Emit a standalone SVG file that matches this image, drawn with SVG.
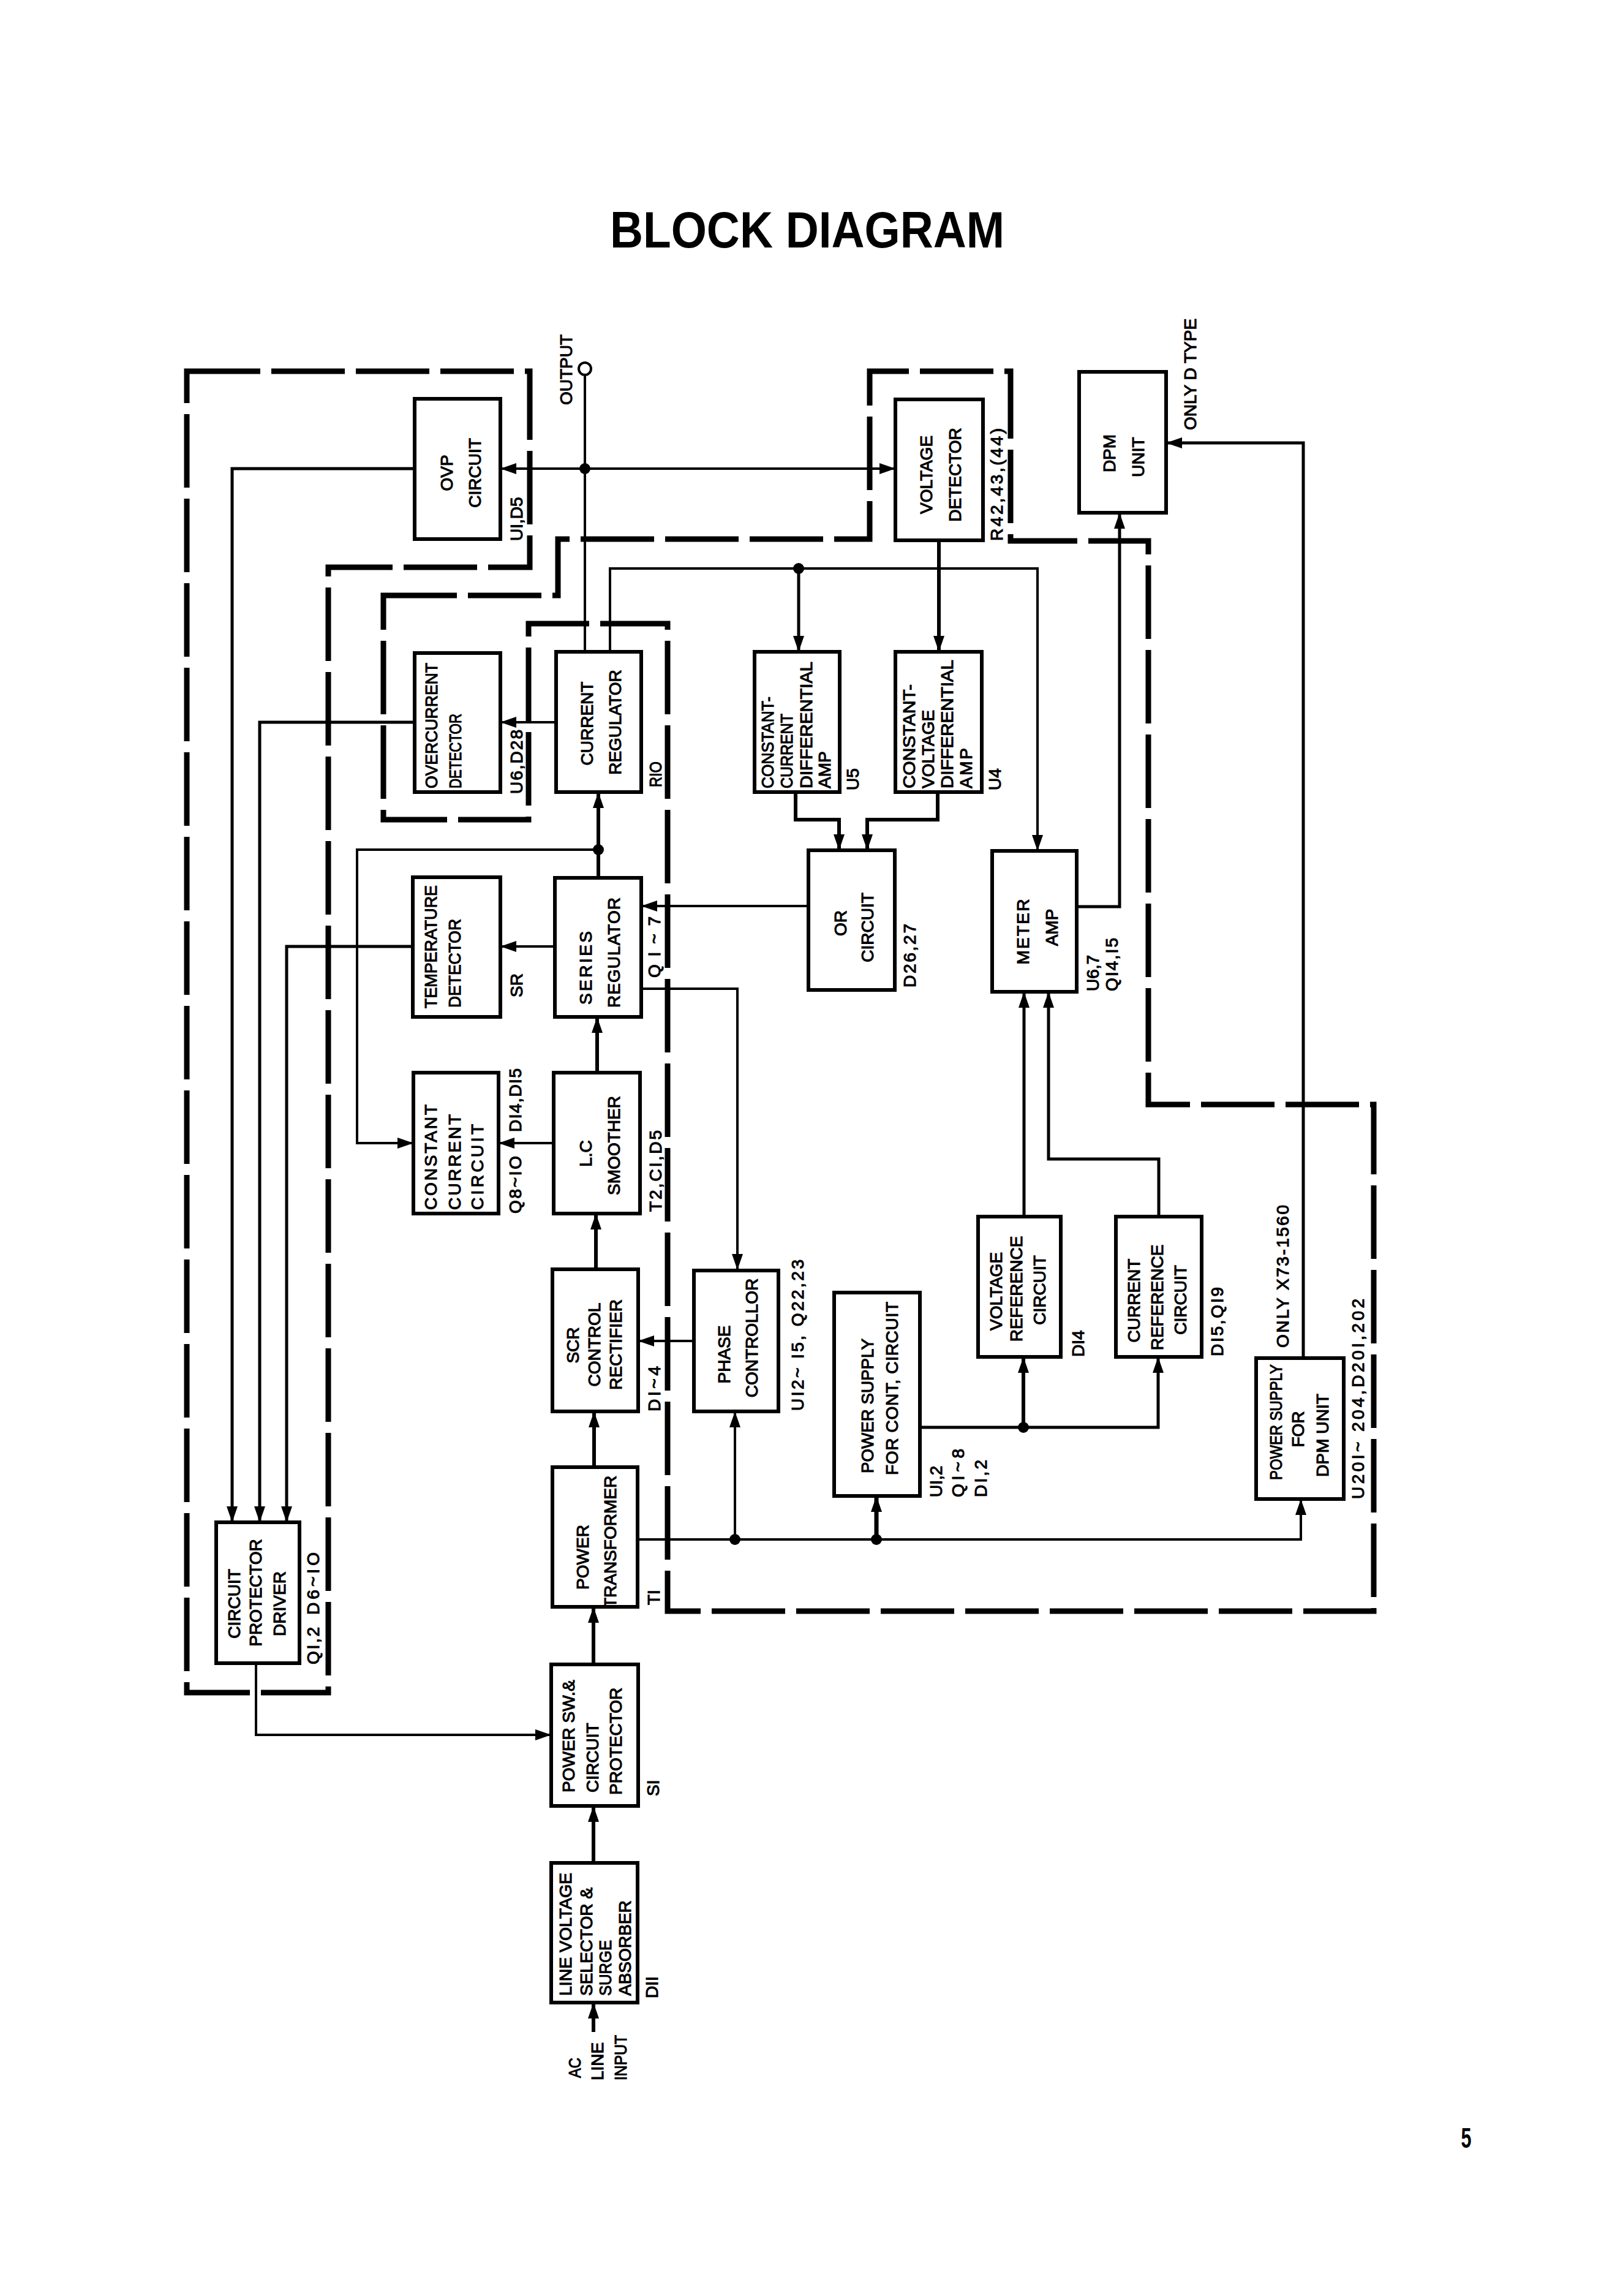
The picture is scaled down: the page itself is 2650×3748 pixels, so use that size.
<svg xmlns="http://www.w3.org/2000/svg" width="2650" height="3748" viewBox="0 0 2650 3748">
<defs>
<style>
.t{font-family:"Liberation Sans",Arial,sans-serif;font-size:28px;fill:#000;stroke:#000;stroke-width:1.1}
.c{text-anchor:middle}
.box{fill:#fff;stroke:#000;stroke-width:6}
.ln{fill:none;stroke:#000;stroke-width:4}
.tk{fill:none;stroke:#000;stroke-width:6}
.ar{marker-end:url(#ah)}
.dash{fill:none;stroke:#000;stroke-width:9;stroke-dasharray:120 18}
.dot{fill:#000}
</style>
<marker id="ah" viewBox="0 0 26 18" refX="26" refY="9" markerWidth="26" markerHeight="18" markerUnits="userSpaceOnUse" orient="auto"><path d="M0,0 L26,9 L0,18 z" fill="#000"/></marker>
</defs>
<rect width="2650" height="3748" fill="#fff"/>
<text x="1318" y="404" font-family="Liberation Sans, Arial, sans-serif" font-weight="bold" font-size="84" text-anchor="middle" textLength="644" lengthAdjust="spacingAndGlyphs">BLOCK DIAGRAM</text>
<text x="2394" y="3506" font-family="Liberation Sans, Arial, sans-serif" font-weight="bold" font-size="46" text-anchor="middle" textLength="17" lengthAdjust="spacingAndGlyphs">5</text>

<g id="boundaries">
<path class="dash" d="M305,606 H865 V926 H536 V2763 H305 Z"/>
<path class="dash" d="M626,972 H911 V880 H1420 V606 H1650 V883 H1875 V1803 H2243 V2630 H1090 V1018 H863 V1338 H626 Z"/>
</g>

<g id="connectors">
<circle cx="955" cy="602" r="10" fill="#fff" stroke="#000" stroke-width="4"/>
<path class="ln" d="M955,612 V1064"/>
<path class="ln ar" d="M955,765 H817"/>
<path class="ln ar" d="M955,765 H1462"/>
<circle class="dot" cx="955" cy="765" r="9"/>
<path class="ln ar" d="M677,765 H379 V2485" style="stroke-width:5"/>
<path class="ln ar" d="M677,1179 H424 V2485" style="stroke-width:5"/>
<path class="ln ar" d="M674,1545 H468 V2485" style="stroke-width:5"/>
<path class="ln ar" d="M908,1179 H817"/>
<path class="ln ar" d="M996,1064 V928 H1694 V1389"/>
<circle class="dot" cx="1304" cy="928" r="9"/>
<path class="tk ar" d="M1304,928 V1064" style="stroke-width:5"/>
<path class="tk ar" d="M1533,882 V1064"/>
<path class="tk ar" d="M1299,1293 V1338 H1370 V1388"/>
<path class="tk ar" d="M1531,1293 V1338 H1416 V1388"/>
<path class="ln ar" d="M1320,1479 H1047"/>
<path class="tk ar" d="M977,1433 V1293"/>
<circle class="dot" cx="977" cy="1387" r="9"/>
<path class="ln ar" d="M977,1387 H583 V1866 H675"/>
<path class="ln ar" d="M906,1545 H817"/>
<path class="ln ar" d="M904,1866 H814"/>
<path class="tk ar" d="M975,1751 V1660"/>
<path class="ln ar" d="M1047,1614 H1204 V2073"/>
<path class="tk ar" d="M973,2072 V1981"/>
<path class="ln ar" d="M1133,2189 H1042"/>
<path class="tk ar" d="M970,2395 V2304"/>
<path class="ln ar" d="M1041,2513 H2124 V2447"/>
<circle class="dot" cx="1200" cy="2513" r="9"/>
<circle class="dot" cx="1431" cy="2513" r="9"/>
<path class="ln ar" d="M1200,2513 V2304"/>
<path class="tk ar" d="M1431,2513 V2442" style="stroke-width:7"/>
<path class="ln ar" d="M1502,2330 H1891 V2215" style="stroke-width:5"/>
<circle class="dot" cx="1671" cy="2330" r="9"/>
<path class="tk ar" d="M1671,2330 V2215"/>
<path class="tk ar" d="M1672,1986 V1619" style="stroke-width:5"/>
<path class="tk ar" d="M1892,1986 V1892 H1712 V1619" style="stroke-width:5"/>
<path class="ln ar" d="M1758,1480 H1828 V837" style="stroke-width:5"/>
<path class="ln ar" d="M2128,2217 V723 H1904" style="stroke-width:5"/>
<path class="ln ar" d="M418,2715 V2832 H900"/>
<path class="tk ar" d="M969,2717 V2623"/>
<path class="tk ar" d="M969,3041 V2948"/>
<path class="tk ar" d="M969,3317 V3269"/>
</g>

<g id="output-terminal">
<text class="t" transform="translate(934 661) rotate(-90)">OUTPUT</text>
</g>

<g id="ovp-circuit">
<rect class="box" x="677" y="651" width="140" height="229"/>
<text class="t c" transform="translate(739 772) rotate(-90)">OVP</text>
<text class="t c" transform="translate(785 772) rotate(-90)">CIRCUIT</text>
<text class="t" transform="translate(853 883) rotate(-90)">UI,D5</text>
</g>

<g id="voltage-detector">
<rect class="box" x="1462" y="652" width="143" height="230"/>
<text class="t c" transform="translate(1522 775) rotate(-90)">VOLTAGE</text>
<text class="t c" transform="translate(1569 775) rotate(-90)">DETECTOR</text>
<text class="t" transform="translate(1637 883) rotate(-90)" textLength="184" lengthAdjust="spacing">R42,43,(44)</text>
</g>

<g id="dpm-unit">
<rect class="box" x="1762" y="607" width="142" height="230"/>
<text class="t c" transform="translate(1821 740) rotate(-90)">DPM</text>
<text class="t c" transform="translate(1868 746) rotate(-90)">UNIT</text>
<text class="t" transform="translate(1953 702) rotate(-90)">ONLY D TYPE</text>
</g>

<g id="overcurrent-detector">
<rect class="box" x="677" y="1066" width="140" height="227"/>
<text class="t" transform="translate(714 1287) rotate(-90)" textLength="205" lengthAdjust="spacingAndGlyphs">OVERCURRENT</text>
<text class="t" transform="translate(753 1287) rotate(-90)" textLength="122" lengthAdjust="spacingAndGlyphs">DETECTOR</text>
<text class="t" transform="translate(853 1296) rotate(-90)" textLength="105" lengthAdjust="spacing">U6,D28</text>
</g>

<g id="current-regulator">
<rect class="box" x="908" y="1064" width="139" height="229"/>
<text class="t c" transform="translate(968 1181) rotate(-90)">CURRENT</text>
<text class="t c" transform="translate(1014 1179) rotate(-90)">REGULATOR</text>
<text class="t" transform="translate(1080 1285) rotate(-90)" textLength="42" lengthAdjust="spacingAndGlyphs">RIO</text>
</g>

<g id="cc-differential-amp">
<rect class="box" x="1232" y="1064" width="139" height="229"/>
<text class="t" transform="translate(1263 1287) rotate(-90)" textLength="150" lengthAdjust="spacingAndGlyphs">CONSTANT-</text>
<text class="t" transform="translate(1294 1287) rotate(-90)" textLength="122" lengthAdjust="spacingAndGlyphs">CURRENT</text>
<text class="t" transform="translate(1326 1287) rotate(-90)" textLength="207" lengthAdjust="spacingAndGlyphs">DIFFERENTIAL</text>
<text class="t" transform="translate(1356 1287) rotate(-90)">AMP</text>
<text class="t" transform="translate(1402 1290) rotate(-90)">U5</text>
</g>

<g id="cv-differential-amp">
<rect class="box" x="1462" y="1064" width="141" height="229"/>
<text class="t" transform="translate(1494 1287) rotate(-90)" textLength="170" lengthAdjust="spacingAndGlyphs">CONSTANT-</text>
<text class="t" transform="translate(1525 1287) rotate(-90)">VOLTAGE</text>
<text class="t" transform="translate(1556 1287) rotate(-90)" textLength="210" lengthAdjust="spacingAndGlyphs">DIFFERENTIAL</text>
<text class="t" transform="translate(1587 1287) rotate(-90)" textLength="66" lengthAdjust="spacing">AMP</text>
<text class="t" transform="translate(1634 1290) rotate(-90)">U4</text>
</g>

<g id="temperature-detector">
<rect class="box" x="674" y="1432" width="143" height="228"/>
<text class="t" transform="translate(713 1646) rotate(-90)" textLength="201" lengthAdjust="spacingAndGlyphs">TEMPERATURE</text>
<text class="t" transform="translate(752 1645) rotate(-90)" textLength="145" lengthAdjust="spacingAndGlyphs">DETECTOR</text>
<text class="t" transform="translate(853 1628) rotate(-90)">SR</text>
</g>

<g id="series-regulator">
<rect class="box" x="906" y="1433" width="141" height="227"/>
<text class="t" transform="translate(966 1640) rotate(-90)" textLength="120" lengthAdjust="spacing">SERIES</text>
<text class="t" transform="translate(1012 1645) rotate(-90)" textLength="180" lengthAdjust="spacing">REGULATOR</text>
<text class="t" transform="translate(1078 1596) rotate(-90)" textLength="100" lengthAdjust="spacing">QI~7</text>
</g>

<g id="or-circuit">
<rect class="box" x="1320" y="1388" width="141" height="228"/>
<text class="t c" transform="translate(1382 1507) rotate(-90)">OR</text>
<text class="t c" transform="translate(1426 1514) rotate(-90)">CIRCUIT</text>
<text class="t" transform="translate(1495 1612) rotate(-90)" textLength="104" lengthAdjust="spacing">D26,27</text>
</g>

<g id="meter-amp">
<rect class="box" x="1620" y="1389" width="138" height="230"/>
<text class="t c" transform="translate(1680 1521) rotate(-90)" textLength="107" lengthAdjust="spacing">METER</text>
<text class="t c" transform="translate(1727 1514) rotate(-90)">AMP</text>
<text class="t" transform="translate(1794 1618) rotate(-90)">U6,7</text>
<text class="t" transform="translate(1825 1618) rotate(-90)" textLength="87" lengthAdjust="spacing">QI4,I5</text>
</g>

<g id="constant-current-circuit">
<rect class="box" x="675" y="1751" width="139" height="230"/>
<text class="t" transform="translate(713 1975) rotate(-90)" textLength="172" lengthAdjust="spacing">CONSTANT</text>
<text class="t" transform="translate(752 1975) rotate(-90)" textLength="156" lengthAdjust="spacing">CURRENT</text>
<text class="t" transform="translate(789 1975) rotate(-90)" textLength="140" lengthAdjust="spacing">CIRCUIT</text>
<text class="t" transform="translate(851 1981) rotate(-90)" textLength="94" lengthAdjust="spacing">Q8~IO</text>
<text class="t" transform="translate(851 1848) rotate(-90)" textLength="104" lengthAdjust="spacing">DI4,DI5</text>
</g>

<g id="lc-smoother">
<rect class="box" x="904" y="1751" width="141" height="230"/>
<text class="t c" transform="translate(966 1883) rotate(-90)">L.C</text>
<text class="t c" transform="translate(1012 1870) rotate(-90)">SMOOTHER</text>
<text class="t" transform="translate(1080 1978) rotate(-90)" textLength="133" lengthAdjust="spacing">T2,CI,D5</text>
</g>

<g id="scr-control-rectifier">
<rect class="box" x="902" y="2072" width="140" height="232"/>
<text class="t c" transform="translate(945 2196) rotate(-90)">SCR</text>
<text class="t c" transform="translate(980 2195) rotate(-90)">CONTROL</text>
<text class="t c" transform="translate(1015 2195) rotate(-90)">RECTIFIER</text>
<text class="t" transform="translate(1078 2304) rotate(-90)" textLength="74" lengthAdjust="spacing">DI~4</text>
</g>

<g id="phase-controllor">
<rect class="box" x="1133" y="2074" width="138" height="230"/>
<text class="t c" transform="translate(1192 2211) rotate(-90)">PHASE</text>
<text class="t c" transform="translate(1237 2184) rotate(-90)">CONTROLLOR</text>
<text class="t" transform="translate(1312 2303) rotate(-90)" textLength="247" lengthAdjust="spacing">UI2~ I5, Q22,23</text>
</g>

<g id="power-supply-cont">
<rect class="box" x="1362" y="2110" width="140" height="332"/>
<text class="t" transform="translate(1426 2405) rotate(-90)" textLength="220" lengthAdjust="spacingAndGlyphs">POWER SUPPLY</text>
<text class="t" transform="translate(1466 2408) rotate(-90)" textLength="283" lengthAdjust="spacing">FOR CONT, CIRCUIT</text>
<text class="t" transform="translate(1538 2444) rotate(-90)">UI,2</text>
<text class="t" transform="translate(1574 2444) rotate(-90)" textLength="79" lengthAdjust="spacing">QI~8</text>
<text class="t" transform="translate(1611 2444) rotate(-90)" textLength="61" lengthAdjust="spacing">DI,2</text>
</g>

<g id="voltage-reference">
<rect class="box" x="1597" y="1986" width="135" height="229"/>
<text class="t c" transform="translate(1636 2108) rotate(-90)">VOLTAGE</text>
<text class="t c" transform="translate(1669 2104) rotate(-90)">REFERENCE</text>
<text class="t c" transform="translate(1707 2106) rotate(-90)">CIRCUIT</text>
<text class="t" transform="translate(1770 2215) rotate(-90)">DI4</text>
</g>

<g id="current-reference">
<rect class="box" x="1822" y="1986" width="140" height="229"/>
<text class="t c" transform="translate(1861 2123) rotate(-90)">CURRENT</text>
<text class="t c" transform="translate(1899 2118) rotate(-90)">REFERENCE</text>
<text class="t c" transform="translate(1937 2122) rotate(-90)">CIRCUIT</text>
<text class="t" transform="translate(1997 2214) rotate(-90)" textLength="113" lengthAdjust="spacing">DI5,QI9</text>
</g>

<g id="power-supply-dpm">
<rect class="box" x="2051" y="2217" width="143" height="230"/>
<text class="t" transform="translate(2093 2416) rotate(-90)" textLength="189" lengthAdjust="spacingAndGlyphs">POWER SUPPLY</text>
<text class="t c" transform="translate(2129 2333) rotate(-90)">FOR</text>
<text class="t" transform="translate(2169 2411) rotate(-90)" textLength="136" lengthAdjust="spacingAndGlyphs">DPM UNIT</text>
<text class="t" transform="translate(2104 2200) rotate(-90)" textLength="233" lengthAdjust="spacing">ONLY X73-1560</text>
<text class="t" transform="translate(2227 2447) rotate(-90)" textLength="327" lengthAdjust="spacing">U20I~ 204,D20I,202</text>
</g>

<g id="power-transformer">
<rect class="box" x="902" y="2395" width="139" height="228"/>
<text class="t c" transform="translate(961 2542) rotate(-90)">POWER</text>
<text class="t c" transform="translate(1006 2517) rotate(-90)">TRANSFORMER</text>
<text class="t" transform="translate(1077 2620) rotate(-90)">TI</text>
</g>

<g id="circuit-protector-driver">
<rect class="box" x="353" y="2485" width="136" height="230"/>
<text class="t c" transform="translate(392 2618) rotate(-90)">CIRCUIT</text>
<text class="t c" transform="translate(427 2600) rotate(-90)">PROTECTOR</text>
<text class="t c" transform="translate(466 2618) rotate(-90)">DRIVER</text>
<text class="t" transform="translate(521 2717) rotate(-90)" textLength="61" lengthAdjust="spacing">QI,2</text>
<text class="t" transform="translate(521 2636) rotate(-90)" textLength="102" lengthAdjust="spacing">D6~IO</text>
</g>

<g id="power-switch-protector">
<rect class="box" x="900" y="2717" width="142" height="231"/>
<text class="t" transform="translate(938 2926) rotate(-90)">POWER SW.&amp;</text>
<text class="t" transform="translate(977 2926) rotate(-90)">CIRCUIT</text>
<text class="t" transform="translate(1015 2930) rotate(-90)">PROTECTOR</text>
<text class="t" transform="translate(1076 2932) rotate(-90)">SI</text>
</g>

<g id="line-voltage-selector">
<rect class="box" x="900" y="3041" width="141" height="228"/>
<text class="t" transform="translate(933 3258) rotate(-90)" textLength="201" lengthAdjust="spacingAndGlyphs">LINE VOLTAGE</text>
<text class="t" transform="translate(967 3258) rotate(-90)">SELECTOR &amp;</text>
<text class="t" transform="translate(998 3258) rotate(-90)" textLength="91" lengthAdjust="spacingAndGlyphs">SURGE</text>
<text class="t" transform="translate(1030 3258) rotate(-90)">ABSORBER</text>
<text class="t" transform="translate(1074 3262) rotate(-90)">DII</text>
</g>

<g id="ac-line-input">
<text class="t" transform="translate(948 3392) rotate(-90)" textLength="33" lengthAdjust="spacingAndGlyphs">AC</text>
<text class="t" transform="translate(985 3396) rotate(-90)">LINE</text>
<text class="t" transform="translate(1023 3396) rotate(-90)" textLength="74" lengthAdjust="spacingAndGlyphs">INPUT</text>
</g>
</svg>
